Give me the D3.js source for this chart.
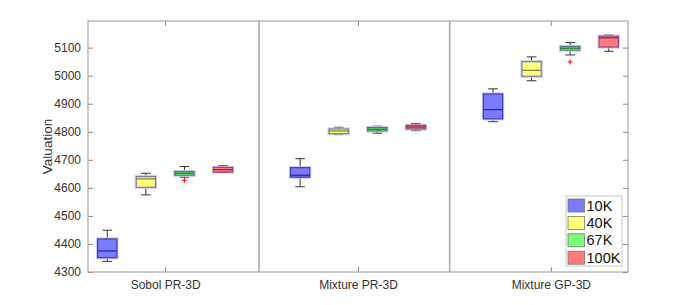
<!DOCTYPE html>
<html>
<head>
<meta charset="utf-8">
<script src="https://cdn.jsdelivr.net/npm/d3@7"></script>
<style>
  body { margin: 0; background: #fff; }
  text { font-family: "Liberation Sans", Arial, sans-serif; }
</style>
</head>
<body>
<div id="chart-area"></div>
<script>
// boxplot of valuation by method and sample size
const groups = ['Sobol PR-3D', 'Mixture PR-3D', 'Mixture GP-3D'];
const sizes = ['10K', '40K', '67K', '100K'];

// rows = groups, columns = sizes
const whiskerLow = [[4338, 4575, 4638, 4655], [4604, 4790, 4795, 4804], [4836, 4982, 5074, 5087]];
const q1 = [[4351, 4602, 4645, 4656], [4638, 4793, 4803, 4810], [4846, 4998, 5091, 5102]];
const median = [[4375, 4632, 4652, 4665], [4645, 4803, 4809, 4817], [4879, 5019, 5098, 5135]];
const q3 = [[4418, 4640, 4658, 4673], [4672, 4810, 4815, 4823], [4935, 5050, 5104, 5141]];
const whiskerHigh = [[4449, 4652, 4676, 4679], [4704, 4816, 4820, 4829], [4953, 5067, 5118, 5145]];
const outliers = [
  { group: 0, size: 2, value: 4627 },
  { group: 2, size: 2, value: 5049 }
];
const yTicks = [4300, 4400, 4500, 4600, 4700, 4800, 4900, 5000, 5100];

const fills = ['#7b7bff', '#ffff7b', '#7bff7b', '#ff7b7b'];
const edges = ['#3a3ab8', '#7878a8', '#4a7a8a', '#8a4a8a'];
const medians = ['#2c2c90', '#8a8a3a', '#1f7f1f', '#a8203a'];

const margin = { left: 88, right: 64, top: 21, bottom: 33 };
const width = 692 - margin.left - margin.right;
const height = 305 - margin.top - margin.bottom;

const svg = d3.select('#chart-area').append('svg')
  .attr('width', 692)
  .attr('height', 305);

const g = svg.append('g')
  .attr('transform', `translate(${margin.left}, ${margin.top})`);

const nPos = groups.length * sizes.length + groups.length - 1;
const x = d3.scaleLinear()
  .domain([0.5, nPos + 0.5])
  .range([0, width]);

const y = d3.scaleLinear()
  .domain([4300, 5195])
  .range([height, 0]);

const pos = (gi, si) => gi * (sizes.length + 1) + si + 1;

// build flat table
const boxes = [];
groups.forEach((grp, gi) => {
  sizes.forEach((s, si) => {
    boxes.push({
      gi, si,
      lo: whiskerLow[gi][si], q1: q1[gi][si], med: median[gi][si],
      q3: q3[gi][si], hi: whiskerHigh[gi][si]
    });
  });
});

// y axis, ticks pointing inward
g.append('g')
  .call(d3.axisLeft(y).tickValues(yTicks).tickFormat(d3.format('d'))
    .tickSizeInner(-5).tickSizeOuter(0).tickPadding(7))
  .call(a => a.select('.domain').remove())
  .call(a => a.selectAll('line').attr('stroke', '#8c8c8c'))
  .call(a => a.selectAll('text').attr('fill', '#333').style('font-size', '12px'));

g.append('g')
  .attr('transform', `translate(${width}, 0)`)
  .call(d3.axisRight(y).tickValues(yTicks).tickSizeInner(-5).tickSizeOuter(0).tickFormat(''))
  .call(a => a.select('.domain').remove())
  .call(a => a.selectAll('line').attr('stroke', '#8c8c8c'));

// x axis with group labels
const groupCenters = groups.map((d, gi) => (pos(gi, 0) + pos(gi, sizes.length - 1)) / 2);
g.append('g')
  .attr('transform', `translate(0, ${height})`)
  .call(d3.axisBottom(x).tickValues(groupCenters).tickSizeInner(-5).tickSizeOuter(0).tickPadding(8)
    .tickFormat((d, i) => groups[i]))
  .call(a => a.select('.domain').remove())
  .call(a => a.selectAll('line').attr('stroke', '#8c8c8c'))
  .call(a => a.selectAll('text').attr('fill', '#333').style('font-size', '12px'));

g.append('g')
  .call(d3.axisTop(x).tickValues(groupCenters).tickSizeInner(-5).tickSizeOuter(0).tickFormat(''))
  .call(a => a.select('.domain').remove())
  .call(a => a.selectAll('line').attr('stroke', '#8c8c8c'));

// group separators
const separators = [4.935, 9.878];
g.selectAll('.sep')
  .data(separators)
  .enter().append('line')
    .attr('x1', d => x(d))
    .attr('x2', d => x(d))
    .attr('y1', 0)
    .attr('y2', height)
    .attr('stroke', '#b4b4b4')
    .attr('stroke-width', 1.8);

// frame
g.append('rect')
  .attr('width', width)
  .attr('height', height)
  .attr('fill', 'none')
  .attr('stroke', '#9a9a9a')
  .attr('stroke-width', 1);

const bw = x(1.25) - x(1);
const cw = x(1.125) - x(1);

const bx = g.selectAll('.box')
  .data(boxes)
  .enter().append('g');

// whiskers
bx.append('line')
  .attr('x1', d => x(pos(d.gi, d.si))).attr('x2', d => x(pos(d.gi, d.si)))
  .attr('y1', d => y(d.hi)).attr('y2', d => y(d.q3))
  .attr('stroke', '#333').attr('stroke-width', 1);
bx.append('line')
  .attr('x1', d => x(pos(d.gi, d.si))).attr('x2', d => x(pos(d.gi, d.si)))
  .attr('y1', d => y(d.q1)).attr('y2', d => y(d.lo))
  .attr('stroke', '#333').attr('stroke-width', 1);
bx.append('line')
  .attr('x1', d => x(pos(d.gi, d.si)) - cw).attr('x2', d => x(pos(d.gi, d.si)) + cw)
  .attr('y1', d => y(d.hi)).attr('y2', d => y(d.hi))
  .attr('stroke', '#333').attr('stroke-width', 1);
bx.append('line')
  .attr('x1', d => x(pos(d.gi, d.si)) - cw).attr('x2', d => x(pos(d.gi, d.si)) + cw)
  .attr('y1', d => y(d.lo)).attr('y2', d => y(d.lo))
  .attr('stroke', '#333').attr('stroke-width', 1);

// box halo + box
bx.append('rect')
  .attr('x', d => x(pos(d.gi, d.si)) - bw - 1)
  .attr('y', d => y(d.q3) - 1)
  .attr('width', 2 * bw + 2)
  .attr('height', d => y(d.q1) - y(d.q3) + 2)
  .attr('fill', 'none')
  .attr('stroke', '#c8c8f0')
  .attr('stroke-width', 1);
bx.append('rect')
  .attr('x', d => x(pos(d.gi, d.si)) - bw)
  .attr('y', d => y(d.q3))
  .attr('width', 2 * bw)
  .attr('height', d => y(d.q1) - y(d.q3))
  .attr('fill', d => fills[d.si])
  .attr('stroke', d => edges[d.si])
  .attr('stroke-width', 1.2);
bx.append('line')
  .attr('x1', d => x(pos(d.gi, d.si)) - bw).attr('x2', d => x(pos(d.gi, d.si)) + bw)
  .attr('y1', d => y(d.med)).attr('y2', d => y(d.med))
  .attr('stroke', d => medians[d.si]).attr('stroke-width', 1.3);

// outliers
const out = g.selectAll('.out')
  .data(outliers)
  .enter().append('g')
    .attr('transform', d => `translate(${x(pos(d.group, d.size))}, ${y(d.value)})`);
out.append('line').attr('x1', -2.5).attr('x2', 2.5).attr('stroke', '#f00').attr('stroke-width', 1);
out.append('line').attr('y1', -2.5).attr('y2', 2.5).attr('stroke', '#f00').attr('stroke-width', 1);

// y label
svg.append('text')
  .attr('transform', `translate(52, ${margin.top + height / 2}) rotate(-90)`)
  .attr('text-anchor', 'middle')
  .attr('fill', '#333')
  .style('font-size', '13.5px')
  .text('Valuation');

// legend
const leg = g.append('g')
  .attr('transform', `translate(${width - 62}, ${height - 76})`);
leg.append('rect')
  .attr('width', 56).attr('height', 70)
  .attr('fill', '#fff').attr('stroke', '#c8c8c8');
const li = leg.selectAll('.li')
  .data(sizes)
  .enter().append('g')
    .attr('transform', (d, i) => `translate(2, ${3 + i * 17.4})`);
li.append('rect')
  .attr('width', 16.5).attr('height', 13)
  .attr('fill', (d, i) => fills[i])
  .attr('stroke', '#777').attr('stroke-width', 0.8);
li.append('text')
  .attr('x', 18.5).attr('y', 11.5)
  .attr('fill', '#111')
  .style('font-size', '14.5px')
  .text(d => d);
</script>
</body>
</html>
